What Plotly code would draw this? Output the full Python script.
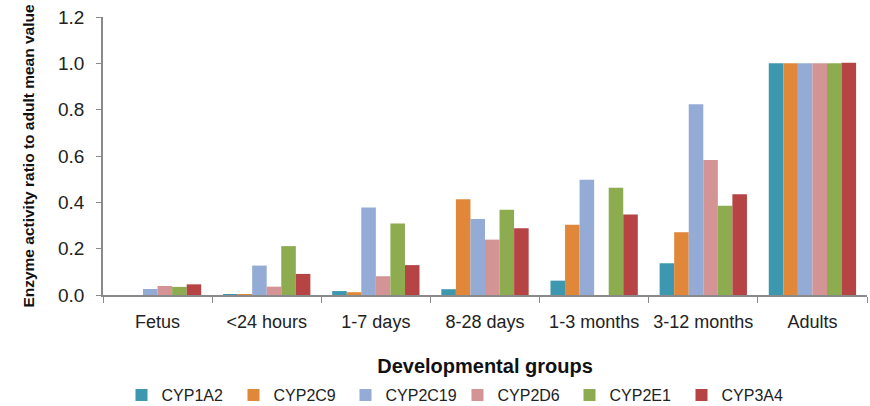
import plotly.graph_objects as go

groups = ["Fetus", "<24 hours", "1-7 days", "8-28 days", "1-3 months", "3-12 months", "Adults"]
CYP1A2 = [0.0, 0.004, 0.017, 0.025, 0.062, 0.137, 1.0]
CYP2C9 = [0.0, 0.002, 0.012, 0.413, 0.303, 0.271, 1.0]
CYP2C19 = [0.026, 0.127, 0.378, 0.328, 0.498, 0.823, 1.0]
CYP2D6 = [0.039, 0.036, 0.081, 0.239, 0.0, 0.583, 1.0]
CYP2E1 = [0.035, 0.211, 0.309, 0.368, 0.463, 0.385, 1.0]
CYP3A4 = [0.046, 0.091, 0.129, 0.288, 0.348, 0.435, 1.002]

series = [
    ("CYP1A2", CYP1A2, "#3D97AE"),
    ("CYP2C9", CYP2C9, "#E0873A"),
    ("CYP2C19", CYP2C19, "#94ABD6"),
    ("CYP2D6", CYP2D6, "#D49394"),
    ("CYP2E1", CYP2E1, "#8DAC4F"),
    ("CYP3A4", CYP3A4, "#B64444"),
]

fig = go.Figure()
for name, vals, col in series:
    fig.add_trace(go.Bar(name=name, x=groups, y=vals, marker=dict(color=col, line=dict(width=0))))

font_family = "Liberation Sans, Arial, sans-serif"
fig.update_layout(
    width=870, height=406,
    margin=dict(l=103, r=3, t=17, b=111, autoexpand=False),
    paper_bgcolor="white", plot_bgcolor="white",
    barmode="group", bargap=0.2, bargroupgap=0.0,
    font=dict(family=font_family, color="#222222"),
    showlegend=True,
    legend=dict(orientation="h", x=0.464, xanchor="center", y=-0.36, yanchor="middle",
                font=dict(size=16, color="#222222"), traceorder="normal",
                entrywidth=67, entrywidthmode="pixels"),
    xaxis=dict(
        automargin=False,
        showline=True, linecolor="#8a8a8a", linewidth=1.5,
        ticks="outside", tickson="boundaries", ticklen=6, tickcolor="#8a8a8a",
        tickfont=dict(size=18, color="#222222"), ticklabelstandoff=10,
        showgrid=False, zeroline=False,
        title=dict(text="<b>Developmental groups</b>", font=dict(size=20, color="#111111"), standoff=28),
    ),
    yaxis=dict(
        automargin=False,
        range=[0, 1.2], dtick=0.2, tickformat=".1f",
        showline=True, linecolor="#8a8a8a", linewidth=1.5,
        ticks="outside", ticklen=5, tickcolor="#8a8a8a",
        tickfont=dict(size=19, color="#222222"), ticklabelstandoff=8,
        showgrid=False, zeroline=False,
        title=dict(text="<b>Enzyme activity ratio to adult mean value</b>", font=dict(size=15.5, color="#111111"), standoff=20),
    ),
)

fig.write_html("out.html", config={"displayModeBar": False},
               post_script="document.body.style.margin='0px';document.body.style.overflow='hidden';")
